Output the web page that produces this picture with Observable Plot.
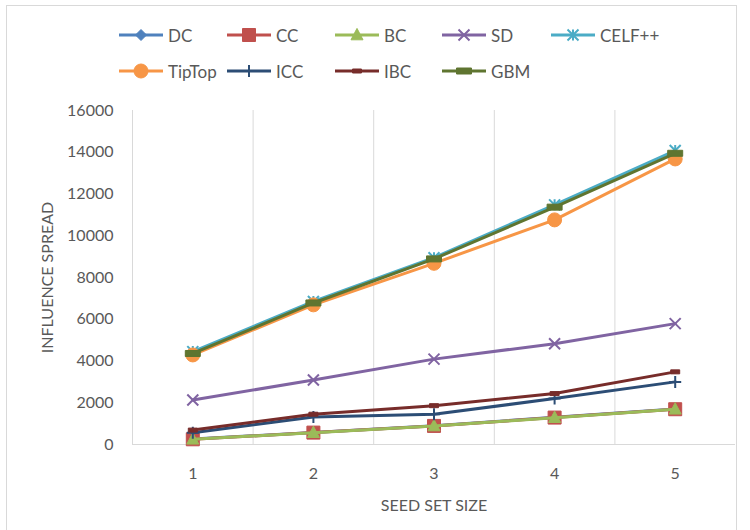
<!DOCTYPE html>
<html>
<head>
<meta charset="utf-8">
<script src="https://cdn.jsdelivr.net/npm/d3@7"></script>
<script src="https://cdn.jsdelivr.net/npm/@observablehq/plot@0.6"></script>
<style>
  html, body { margin: 0; padding: 0; background: #fff; overflow: hidden; }
  #wrap { position: relative; width: 750px; height: 530px; font-family: Lato, "Open Sans", sans-serif; color: #595959; }
  #frame { position: absolute; left: 6px; top: 5px; width: 731px; height: 600px; border: 1px solid #d9d9d9; box-sizing: border-box; pointer-events: none; }
  #legend { position: absolute; left: 0; top: 0; width: 750px; height: 95px; }
  .item { position: absolute; height: 20px; display: flex; align-items: center; font-size: 17px; color: #595959; }
  .item svg { display: block; margin-right: 4px; }
  #chart { position: absolute; left: 0; top: 95px; }
</style>
</head>
<body>
<div id="wrap">
  <div id="frame"></div>
  <div id="legend"></div>
  <div id="chart"></div>
</div>
<script>
// ---- data ----
const seedSizes = [1, 2, 3, 4, 5];
const seriesNames = ["DC", "CC", "BC", "SD", "CELF++", "TipTop", "ICC", "IBC", "GBM"];
const dcValues     = [260, 580, 900, 1300, 1700];
const ccValues     = [250, 570, 890, 1290, 1690];
const bcValues     = [250, 566, 887, 1285, 1688];
const sdValues     = [2130, 3090, 4090, 4830, 5790];
const celfValues   = [4450, 6850, 8950, 11480, 14080];
const tiptopValues = [4290, 6690, 8680, 10760, 13680];
const iccValues    = [560, 1320, 1450, 2200, 3000];
const ibcValues    = [690, 1450, 1860, 2440, 3480];
const gbmValues    = [4360, 6780, 8890, 11370, 13950];
const yTicks = [0, 2000, 4000, 6000, 8000, 10000, 12000, 14000, 16000];
const xLabel = "SEED SET SIZE";
const yLabel = "INFLUENCE SPREAD";

// ---- styles ----
const seriesValues = [dcValues, ccValues, bcValues, sdValues, celfValues, tiptopValues, iccValues, ibcValues, gbmValues];
const seriesColors = ["#4F81BD", "#C0504D", "#9BBB59", "#8064A2", "#4BACC6", "#F79646", "#2C4D75", "#772C2A", "#5F7530"];

const rectSym = (w, h) => ({draw(c) { c.moveTo(-w/2, -h/2); c.lineTo(w/2, -h/2); c.lineTo(w/2, h/2); c.lineTo(-w/2, h/2); c.closePath(); }});
const diamondSym = s => ({draw(c) { c.moveTo(0, -s/2); c.lineTo(s/2, 0); c.lineTo(0, s/2); c.lineTo(-s/2, 0); c.closePath(); }});
const triangleSym = s => ({draw(c) { c.moveTo(0, -s*0.55); c.lineTo(s/2, s*0.4); c.lineTo(-s/2, s*0.4); c.closePath(); }});
const circleSym = d => ({draw(c) { c.moveTo(d/2, 0); c.arc(0, 0, d/2, 0, 2*Math.PI); c.closePath(); }});
const timesSym = s => ({draw(c) { c.moveTo(-s/2, -s/2); c.lineTo(s/2, s/2); c.moveTo(s/2, -s/2); c.lineTo(-s/2, s/2); }});
const plusSym = s => ({draw(c) { c.moveTo(-s/2, 0); c.lineTo(s/2, 0); c.moveTo(0, -s/2); c.lineTo(0, s/2); }});
const starSym = s => ({draw(c) { c.moveTo(0, -s/2); c.lineTo(0, s/2); c.moveTo(-s/2, -s/2); c.lineTo(s/2, s/2); c.moveTo(s/2, -s/2); c.lineTo(-s/2, s/2); }});

const markerStyles = [
  {sym: diamondSym(11), filled: true},
  {sym: rectSym(13, 13), filled: true},
  {sym: triangleSym(12), filled: true},
  {sym: timesSym(11), filled: false, sw: 2},
  {sym: starSym(11), filled: false, sw: 2},
  {sym: circleSym(14), filled: true},
  {sym: plusSym(12), filled: false, sw: 2},
  {sym: rectSym(9, 4), filled: true},
  {sym: rectSym(15, 6), filled: true}
];

const rows = [];
seriesNames.forEach((name, i) => seedSizes.forEach((x, j) => rows.push({series: name, x, value: seriesValues[i][j]})));

// ---- legend ----
const legend = document.getElementById("legend");
const legendCols = [118, 226, 334, 441, 550];
const legendRows = [35, 71];
seriesNames.forEach((name, i) => {
  const r = i < 5 ? 0 : 1, col = i < 5 ? i : i - 5;
  const item = document.createElement("div");
  item.className = "item";
  item.style.left = legendCols[col] + "px";
  item.style.top = (legendRows[r] - 10) + "px";
  const st = markerStyles[i];
  const path = d3.symbol(st.sym)();
  const color = seriesColors[i];
  item.innerHTML = `<svg width="46" height="20"><line x1="1" x2="45" y1="10" y2="10" stroke="${color}" stroke-width="3"/>` +
    `<path transform="translate(23,10)" d="${path}" fill="${st.filled ? color : "none"}" stroke="${color}" stroke-width="${st.sw || 1}"/></svg><span>${name}</span>`;
  legend.appendChild(item);
});

// ---- chart ----
const marks = [
  Plot.ruleX([1.5, 2.5, 3.5, 4.5], {stroke: "#d9d9d9", strokeWidth: 1}),
  Plot.ruleX([0.5], {stroke: "#d9d9d9", strokeWidth: 1}),
  Plot.ruleY([0], {stroke: "#d9d9d9", strokeWidth: 1}),
  Plot.axisY({ticks: yTicks, tickSize: 0, tickPadding: 19, tickFormat: d => String(d), label: null, fontSize: 16, color: "#595959"}),
  Plot.axisX({ticks: seedSizes, tickSize: 0, tickPadding: 23, tickFormat: d => String(d), label: null, fontSize: 16, color: "#595959"}),
  Plot.text([xLabel], {frameAnchor: "bottom", dy: 66, fontSize: 16, fill: "#595959"}),
  Plot.text([yLabel], {frameAnchor: "left", textAnchor: "middle", rotate: -90, dx: -85, fontSize: 16, fill: "#595959"})
];
seriesNames.forEach((name, i) => {
  const data = rows.filter(d => d.series === name);
  const color = seriesColors[i];
  const st = markerStyles[i];
  marks.push(Plot.line(data, {x: "x", y: "value", stroke: color, strokeWidth: 3, strokeLinejoin: "round", strokeLinecap: "round"}));
  marks.push(Plot.dot(data, {x: "x", y: "value", symbol: st.sym, r: 5,
    fill: st.filled ? color : "none", stroke: color, strokeWidth: st.sw || 1}));
});

const chart = Plot.plot({
  width: 750,
  height: 435,
  marginTop: 15,
  marginBottom: 86,
  marginLeft: 132,
  marginRight: 15,
  style: {fontFamily: "Lato, 'Open Sans', sans-serif", color: "#595959", background: "transparent"},
  x: {type: "linear", domain: [0.5, 5.5]},
  y: {domain: [0, 16000]},
  marks
});
document.getElementById("chart").appendChild(chart);
</script>
</body>
</html>
